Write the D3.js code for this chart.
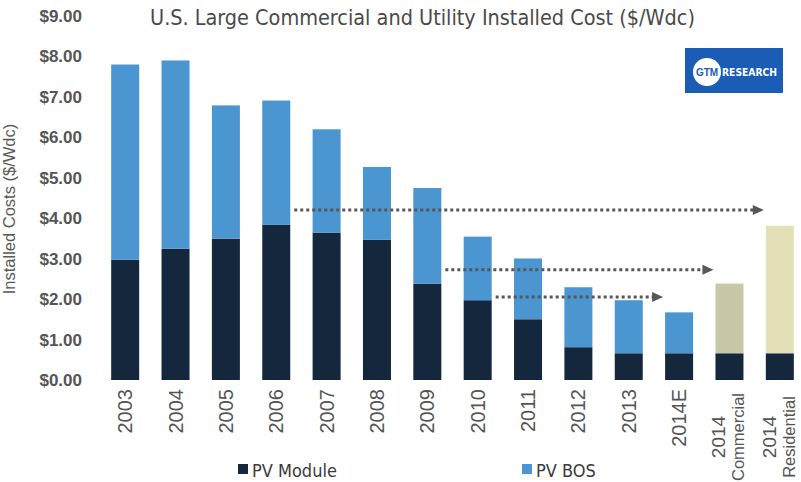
<!DOCTYPE html>
<html>
<head>
<meta charset="utf-8">
<script src="https://cdn.jsdelivr.net/npm/d3@7/dist/d3.min.js"></script>
<style>
  html, body { margin: 0; padding: 0; background: #fff; }
  svg { display: block; }
</style>
</head>
<body>
<svg id="chart" width="801" height="482"></svg>
<script>
// ---- Data ----
const categories = ["2003","2004","2005","2006","2007","2008","2009","2010","2011","2012","2013","2014E","2014 Commercial","2014 Residential"];
const categoryLines = [["2003"],["2004"],["2005"],["2006"],["2007"],["2008"],["2009"],["2010"],["2011"],["2012"],["2013"],["2014E"],["2014","Commercial"],["2014","Residential"]];
const pvModule = [2.97, 3.24, 3.49, 3.83, 3.64, 3.46, 2.38, 1.97, 1.50, 0.81, 0.66, 0.66, 0.66, 0.66];
const pvBOS    = [4.82, 4.65, 3.29, 3.07, 2.55, 1.80, 2.36, 1.57, 1.50, 1.48, 1.31, 1.01, 1.72, 3.15];
const bosKind  = ["bos","bos","bos","bos","bos","bos","bos","bos","bos","bos","bos","bos","commercial","residential"];
const yTicks = [0,1,2,3,4,5,6,7,8,9];
// dotted arrows: from category (right edge) to category (left edge) at value level
const arrowFrom  = ["2006","2009","2010"];
const arrowTo    = ["2014 Residential","2014 Commercial","2014E"];
const arrowLevel = [4.20, 2.72, 2.05];

const title = "U.S. Large Commercial and Utility Installed Cost ($/Wdc)";
const yTitle = "Installed Costs ($/Wdc)";
const legendLabels = ["PV Module","PV BOS"];

// ---- Styles ----
const colors = { module: "#14273d", bos: "#4b95d0", commercial: "#c8c8a6", residential: "#e3e0b7" };
const narrow = "'Liberation Sans Narrow','DejaVu Sans Condensed','Liberation Sans',sans-serif";
const sans = "'Liberation Sans',Arial,sans-serif";

const svg = d3.select("#chart");

const x = d3.scaleBand().domain(categories).range([100, 805]).paddingInner(0.444).paddingOuter(0.222);
const y = d3.scaleLinear().domain([0, 9]).range([380, 15.5]);

// Title
const t = svg.append("text").attr("x", 150).attr("y", 25)
  .attr("font-family", narrow).attr("font-size", 21).attr("fill", "#4a4a4a")
  .text(title);
t.attr("textLength", 545).attr("lengthAdjust", "spacingAndGlyphs");

// Y axis
const yAxis = d3.axisLeft(y).tickValues(yTicks).tickSize(0).tickPadding(0)
  .tickFormat(d => "$" + d3.format(".2f")(d));
const yg = svg.append("g").attr("transform", "translate(82,0)").call(yAxis);
yg.select(".domain").remove();
yg.selectAll("text").attr("font-family", sans).attr("font-size", 17).attr("fill", "#555")
  .attr("font-weight", 600).attr("dy", "0.35em");

// Y title
svg.append("text").attr("transform", "translate(15,209) rotate(-90)")
  .attr("text-anchor", "middle").attr("font-family", sans).attr("font-size", 16.5)
  .attr("fill", "#5a5a5a").text(yTitle);

// Bars
const g = svg.append("g");
categories.forEach((c, i) => {
  g.append("rect").attr("x", x(c)).attr("width", x.bandwidth())
    .attr("y", y(pvModule[i])).attr("height", y(0) - y(pvModule[i]))
    .attr("fill", colors.module);
  const top = pvModule[i] + pvBOS[i];
  g.append("rect").attr("x", x(c)).attr("width", x.bandwidth())
    .attr("y", y(top)).attr("height", y(pvModule[i]) - y(top))
    .attr("fill", colors[bosKind[i]]);
});

// X labels
categories.forEach((c, i) => {
  const cx = x(c) + x.bandwidth() / 2;
  const lines = categoryLines[i];
  if (lines.length === 1) {
    svg.append("text").attr("transform", `translate(${cx + 7},389) rotate(-90)`)
      .attr("text-anchor", "end").attr("font-family", sans).attr("font-size", 20)
      .attr("fill", "#555").text(lines[0]);
  } else {
    lines.forEach((ln, j) => {
      svg.append("text").attr("transform", `translate(${cx - 4 + j * 19},437) rotate(-90)`)
        .attr("text-anchor", "middle").attr("font-family", sans).attr("font-size", j === 0 ? 19 : 16.5)
        .attr("fill", "#555").text(ln);
    });
  }
});

// Dotted arrows
arrowFrom.forEach((f, i) => {
  const x1 = x(f) + x.bandwidth() + 4;
  const x2 = x(arrowTo[i]) - 2;
  const yy = y(arrowLevel[i]);
  svg.append("line").attr("x1", x1).attr("x2", x2 - 9).attr("y1", yy).attr("y2", yy)
    .attr("stroke", "#575757").attr("stroke-width", 3).attr("stroke-dasharray", "3,3");
  svg.append("path").attr("d", `M${x2 - 11},${yy - 5}L${x2},${yy}L${x2 - 11},${yy + 5}Z`)
    .attr("fill", "#575757");
});

// Legend
const legendX = [238, 522];
const legendColors = [colors.module, colors.bos];
legendLabels.forEach((l, i) => {
  svg.append("rect").attr("x", legendX[i]).attr("y", 464).attr("width", 10).attr("height", 10)
    .attr("fill", legendColors[i]);
  svg.append("text").attr("x", legendX[i] + 14).attr("y", 477)
    .attr("font-family", narrow).attr("font-size", 18).attr("fill", "#3a3a3a").text(l);
});

// Logo
const logo = svg.append("g");
logo.append("rect").attr("x", 685).attr("y", 48).attr("width", 98).attr("height", 45).attr("fill", "#1b5cb5");
logo.append("circle").attr("cx", 707).attr("cy", 72).attr("r", 14).attr("fill", "#fff");
logo.append("text").attr("x", 707).attr("y", 75.5).attr("text-anchor", "middle")
  .attr("font-family", sans).attr("font-weight", "bold").attr("font-size", 10).attr("fill", "#1b5cb5").text("GTM");
logo.append("text").attr("x", 722).attr("y", 76).attr("font-family", narrow).attr("font-weight", "bold")
  .attr("font-size", 11).attr("fill", "#fff").attr("textLength", 55).attr("lengthAdjust", "spacingAndGlyphs").text("RESEARCH");
</script>
</body>
</html>
